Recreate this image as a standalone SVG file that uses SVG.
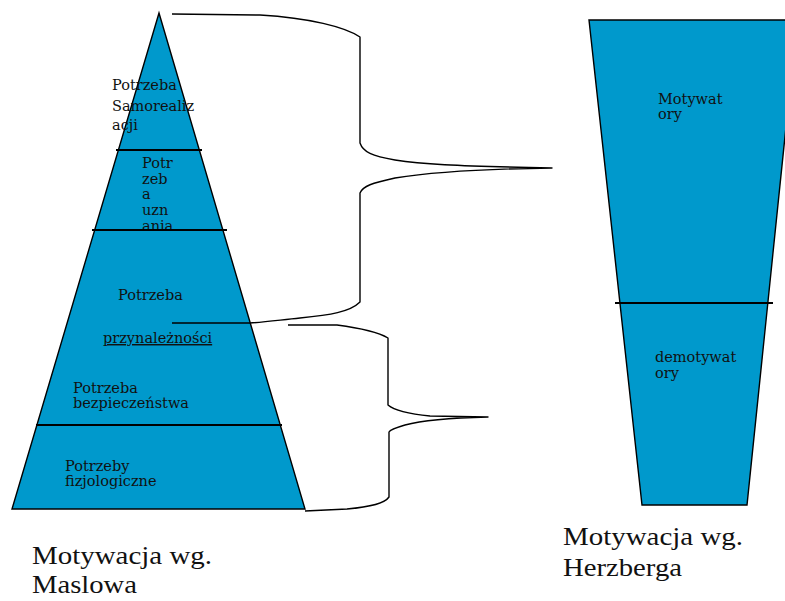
<svg xmlns="http://www.w3.org/2000/svg" width="785" height="601" viewBox="0 0 785 601">
<style>
.shape{fill:#0099cc;stroke:#000;stroke-width:1.4}
.div{stroke:#000;stroke-width:1.8;fill:none}
.lbl{font-family:"DejaVu Serif","Liberation Serif",serif;font-size:14.5px;fill:#111}
.cap{font-family:"Liberation Serif","Times New Roman",serif;font-size:26px;fill:#111}
.brace{fill:none;stroke:#000;stroke-width:1.4;stroke-linejoin:round}
</style>
<rect width="785" height="601" fill="#fff"/>
<g id="maslow">
<polygon class="shape" points="159,13 305,509 12,509"/>
<g id="lvl-samorealizacja">
<text class="lbl" x="112" y="90">Potrzeba</text>
<text class="lbl" x="112" y="111">Samorealiz</text>
<text class="lbl" x="112" y="130">acji</text>
</g>
<g id="lvl-uznanie">
<text class="lbl" x="142" y="168">Potr</text>
<text class="lbl" x="142" y="183.5">zeb</text>
<text class="lbl" x="142" y="199">a</text>
<text class="lbl" x="142" y="214.5">uzn</text>
<text class="lbl" x="142" y="231">ania</text>
</g>
<g id="lvl-przynaleznosc">
<text class="lbl" x="118" y="300">Potrzeba</text>
<text class="lbl" x="103" y="343" text-decoration="underline">przynależności</text>
</g>
<g id="lvl-bezpieczenstwo">
<text class="lbl" x="73" y="393">Potrzeba</text>
<text class="lbl" x="73" y="408">bezpieczeństwa</text>
</g>
<g id="lvl-fizjologiczne">
<text class="lbl" x="65" y="471">Potrzeby</text>
<text class="lbl" x="65" y="486">fizjologiczne</text>
</g>
<line class="div" x1="116" y1="150" x2="202" y2="150"/>
<line class="div" x1="92" y1="230" x2="227" y2="230"/>
<line class="div" x1="36" y1="425" x2="282" y2="425"/>
</g>
<g id="herzberg">
<polygon class="shape" points="589,20 797,20 747,505 642,505"/>
<g id="motywatory">
<text class="lbl" x="658" y="104">Motywat</text>
<text class="lbl" x="658" y="119">ory</text>
</g>
<g id="demotywatory">
<text class="lbl" x="655" y="362">demotywat</text>
<text class="lbl" x="655" y="378">ory</text>
</g>
<line class="div" x1="615" y1="303" x2="773" y2="303"/>
</g>
<g id="connectors">
<path class="brace" d="M172,14 L260,15 C310,18 345,27 360,37 L360,143 C363,152 372,156 395,160 C420,164 450,166 552,168 C470,169 420,174 395,178 C372,183 363,186 360,193 L360,302 C350,312 330,315 300,318 C280,320 265,322 250,323 L172,323"/>
<path class="brace" d="M288,325 L337,325 C360,328 378,332 388,338 L388,405 C395,411 410,414 430,416 L488,417 C450,418 420,421 405,425 C395,428 390,430 389,432 L389,497 C385,503 370,507 347,509 L305,511"/>
</g>
<g id="captions">
<text class="cap" x="32" y="564" textLength="180" lengthAdjust="spacingAndGlyphs">Motywacja wg.</text>
<text class="cap" x="32" y="593" textLength="105" lengthAdjust="spacingAndGlyphs">Maslowa</text>
<text class="cap" x="563" y="545" textLength="180" lengthAdjust="spacingAndGlyphs">Motywacja wg.</text>
<text class="cap" x="563" y="576" textLength="119" lengthAdjust="spacingAndGlyphs">Herzberga</text>
</g>
</svg>
